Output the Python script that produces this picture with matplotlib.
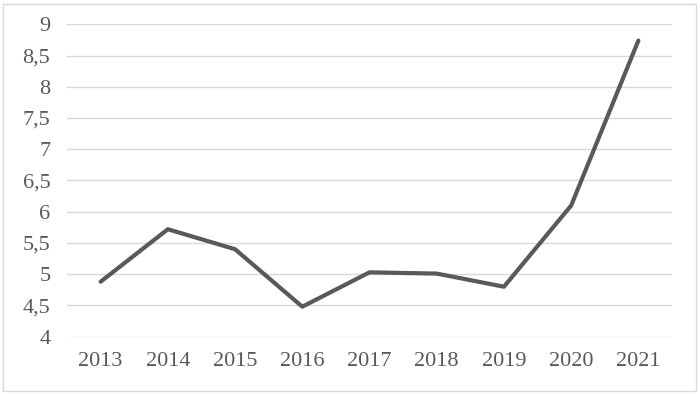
import matplotlib.pyplot as plt
from matplotlib.patches import Rectangle
from matplotlib.ticker import FuncFormatter

years = ['2013', '2014', '2015', '2016', '2017', '2018', '2019', '2020', '2021']
values = [4.88, 5.72, 5.40, 4.48, 5.03, 5.01, 4.80, 6.10, 8.74]
y_ticks = [4, 4.5, 5, 5.5, 6, 6.5, 7, 7.5, 8, 8.5, 9]

plt.rcParams['font.family'] = ['Liberation Serif', 'DejaVu Serif']

fig = plt.figure(figsize=(7, 3.94), dpi=100)
ax = fig.add_axes([67 / 700, 1 - 337 / 394, 605 / 700, 313 / 394])

ax.plot(range(len(years)), values, color='#595959', linewidth=3, solid_capstyle='round', zorder=3)

ax.set_xlim(-0.5, len(years) - 0.5)
ax.set_ylim(3.995, 9.005)
ax.set_yticks(y_ticks)
ax.yaxis.set_major_formatter(FuncFormatter(lambda v, p: ('%g' % v).replace('.', ',')))
ax.set_xticks(range(len(years)))
ax.set_xticklabels(years)
ax.grid(axis='y', color='#d9d9d9', linewidth=1)
ax.set_axisbelow(True)
for s in ax.spines.values():
    s.set_visible(False)
ax.tick_params(length=0, labelsize=16, colors='#595959')
ax.tick_params(axis='x', pad=11)
ax.tick_params(axis='y', pad=12)

# outer frame
fig.patches.append(Rectangle((3 / 700, 3 / 394), 693 / 700, 387 / 394, transform=fig.transFigure,
                             fill=False, edgecolor='#d9d9d9', linewidth=1))

fig.savefig('out.png', dpi=100)
